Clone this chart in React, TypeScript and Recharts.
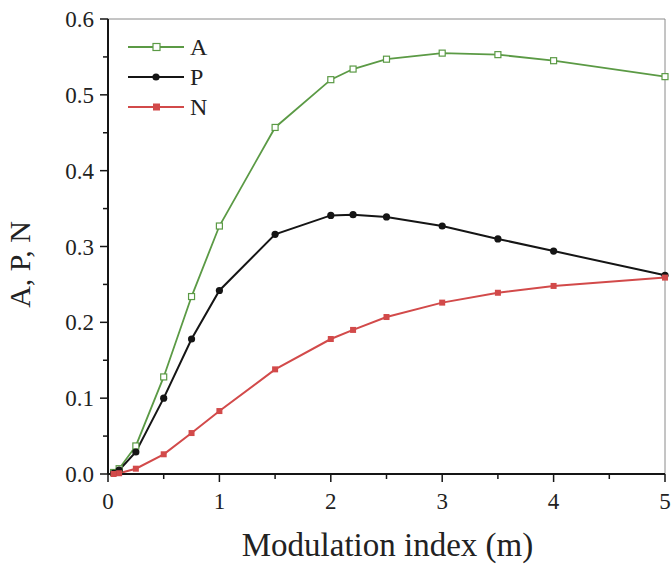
import React from "react";
import {
  LineChart,
  Line,
  XAxis,
  YAxis,
  Legend,
  ReferenceLine,
} from "recharts";

const mValues = [0.05, 0.1, 0.25, 0.5, 0.75, 1, 1.5, 2, 2.2, 2.5, 3, 3.5, 4, 5];
const aValues = [0.002, 0.007, 0.037, 0.128, 0.234, 0.327, 0.457, 0.52, 0.534, 0.547, 0.555, 0.553, 0.545, 0.524];
const pValues = [0.001, 0.005, 0.029, 0.1, 0.178, 0.242, 0.316, 0.341, 0.342, 0.339, 0.327, 0.31, 0.294, 0.262];
const nValues = [0, 0.001, 0.007, 0.026, 0.054, 0.083, 0.138, 0.178, 0.19, 0.207, 0.226, 0.239, 0.248, 0.259];

const xTicks = [0, 0.5, 1, 1.5, 2, 2.5, 3, 3.5, 4, 4.5, 5];
const yTicks = [0, 0.05, 0.1, 0.15, 0.2, 0.25, 0.3, 0.35, 0.4, 0.45, 0.5, 0.55, 0.6];

const GREEN = "#5b9a45";
const RED = "#d24a4a";
const BLACK = "#151515";
const FONT = "'Liberation Serif', 'Times New Roman', serif";

const data = mValues.map((m, i) => ({
  m,
  A: aValues[i],
  P: pValues[i],
  N: nValues[i],
}));

const XTick = (props: any) => {
  const { x, y, payload } = props;
  const major = Number.isInteger(payload.value);
  return (
    <g>
      <line x1={x} x2={x} y1={y} y2={y + (major ? 8 : 5)} stroke={BLACK} strokeWidth={1.5} />
      {major && (
        <text x={x} y={y + 35} textAnchor="middle" fontSize={23} fontFamily={FONT} fill="#222">
          {payload.value}
        </text>
      )}
    </g>
  );
};

const YTick = (props: any) => {
  const { x, y, payload } = props;
  const v = payload.value;
  const major = Math.abs(v * 10 - Math.round(v * 10)) < 1e-6;
  return (
    <g>
      <line x1={x} x2={x - (major ? 8 : 5)} y1={y} y2={y} stroke={BLACK} strokeWidth={1.5} />
      {major && (
        <text x={x - 14} y={y + 8} textAnchor="end" fontSize={23} fontFamily={FONT} fill="#222">
          {v.toFixed(1)}
        </text>
      )}
    </g>
  );
};

const hollowSquare = (p: any) => (
  <rect key={`a${p.index}`} x={p.cx - 3} y={p.cy - 3} width={6} height={6} fill="#fff" stroke={GREEN} strokeWidth={1.2} />
);
const blackDot = (p: any) => (
  <circle key={`p${p.index}`} cx={p.cx} cy={p.cy} r={3.6} fill={BLACK} />
);
const redSquare = (p: any) => (
  <rect key={`n${p.index}`} x={p.cx - 3} y={p.cy - 3} width={6} height={6} fill={RED} />
);

const legendRows = [
  { name: "A", color: GREEN, marker: "hollow" },
  { name: "P", color: BLACK, marker: "dot" },
  { name: "N", color: RED, marker: "square" },
];

const LegendBox = () => (
  <svg width={90} height={90}>
    {legendRows.map((r, i) => {
      const cy = 16 + i * 30;
      return (
        <g key={r.name}>
          <line x1={8} x2={64} y1={cy} y2={cy} stroke={r.color} strokeWidth={2} />
          {r.marker === "hollow" && (
            <rect x={33} y={cy - 3.5} width={7} height={7} fill="#fff" stroke={r.color} strokeWidth={1.2} />
          )}
          {r.marker === "dot" && <circle cx={36} cy={cy} r={3.6} fill={r.color} />}
          {r.marker === "square" && <rect x={33} y={cy - 3.5} width={7} height={7} fill={r.color} />}
          <text x={70} y={cy + 8} fontSize={24} fontFamily={FONT} fill="#222">
            {r.name}
          </text>
        </g>
      );
    })}
  </svg>
);

export default function App() {
  return (
    <div style={{ position: "absolute", left: 0, top: 0, background: "#fff" }}>
      <LineChart width={671} height={566} data={data} margin={{ top: 19, right: 6, bottom: 0, left: 0 }}>
        <XAxis
          dataKey="m"
          type="number"
          domain={[0, 5]}
          ticks={xTicks}
          interval={0}
          height={92}
          tickSize={0}
          tickMargin={0}
          tickLine={false}
          tick={<XTick />}
          axisLine={{ stroke: BLACK, strokeWidth: 2 }}
          label={{
            content: (props: any) => {
              const vb = props.viewBox;
              return (
                <text x={vb.x + vb.width / 2 + 1} y={vb.y + 82} textAnchor="middle" fontSize={33} fontFamily={FONT} fill="#222">
                  Modulation index (m)
                </text>
              );
            },
          }}
        />
        <YAxis
          type="number"
          domain={[0, 0.6]}
          ticks={yTicks}
          interval={0}
          width={108}
          tickSize={0}
          tickMargin={0}
          tickLine={false}
          tick={<YTick />}
          axisLine={{ stroke: BLACK, strokeWidth: 2 }}
          label={{
            content: (props: any) => {
              const vb = props.viewBox;
              const cx = 30;
              const cy = vb.y + vb.height / 2 + 18;
              return (
                <text x={cx} y={cy} transform={`rotate(-90 ${cx} ${cy})`} textAnchor="middle" fontSize={30} fontFamily={FONT} fill="#222">
                  A, P, N
                </text>
              );
            },
          }}
        />
        <ReferenceLine y={0.6} stroke="#8a8a8a" strokeWidth={1} />
        <ReferenceLine x={5} stroke="#8a8a8a" strokeWidth={1} />
        <Legend
          layout="vertical"
          align="center"
          verticalAlign="middle"
          content={<LegendBox />}
          wrapperStyle={{ position: "absolute", left: 120, top: 31, width: 90 }}
        />
        <Line type="linear" dataKey="A" stroke={GREEN} strokeWidth={1.8} dot={hollowSquare} isAnimationActive={false} />
        <Line type="linear" dataKey="P" stroke={BLACK} strokeWidth={2} dot={blackDot} isAnimationActive={false} />
        <Line type="linear" dataKey="N" stroke={RED} strokeWidth={2} dot={redSquare} isAnimationActive={false} />
      </LineChart>
    </div>
  );
}
